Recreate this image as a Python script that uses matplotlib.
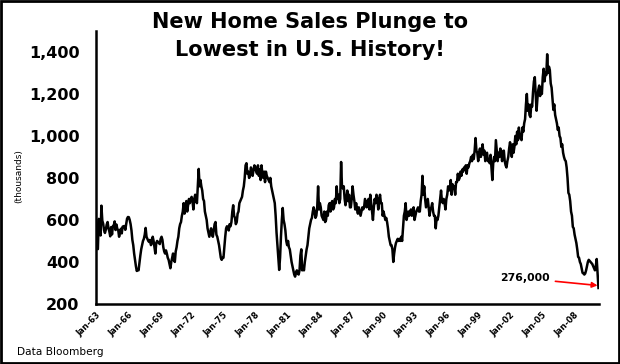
import matplotlib
matplotlib.use("Agg")
import matplotlib.pyplot as plt
import matplotlib.transforms as mtransforms
import numpy as np

# Monthly new home sales (thousands, SAAR), Jan-1963 .. May-2010
sales_1963_1972 = [
    591, 464, 461, 605, 586, 526, 668, 597, 582, 551, 538, 554,
    578, 590, 560, 545, 522, 566, 531, 571, 574, 593, 552, 578,
    557, 552, 520, 541, 558, 536, 568, 570, 571, 553, 580, 606,
    614, 613, 600, 580, 550, 505, 480, 440, 410, 380, 357, 365,
    360, 395, 430, 460, 480, 500, 510, 530, 562, 520, 510, 500,
    495, 505, 480, 490, 520, 500, 470, 440, 490, 500, 495, 490,
    485, 510, 520, 505, 470, 450, 440, 455, 440, 420, 410, 390,
    370, 400, 420, 440, 410, 400, 450, 470, 500, 520, 560, 580,
    590, 620, 640, 680, 630, 660, 690, 640, 670, 700, 680, 700,
    710, 690, 650, 700, 720, 700, 680, 760, 843, 760, 790, 760,
]
sales_1973_1982 = [
    740, 700, 690, 640, 620, 600, 560, 540, 520, 540, 560, 530,
    520, 550, 580, 590, 530, 520, 500, 480, 450, 420, 410, 419,
    420, 470, 520, 560, 570, 560, 550, 580, 570, 590, 640, 670,
    620, 610, 580, 590, 630, 640, 680, 690, 700, 710, 740, 760,
    800, 860, 870, 820, 830, 800, 810, 850, 830, 810, 840, 860,
    850, 830, 820, 860, 810, 840, 790, 860, 820, 800, 830, 780,
    830, 810, 800, 790, 780, 800, 760, 740, 720, 700, 680, 620,
    540, 480, 420, 362, 420, 520, 600, 657, 600, 580, 550, 500,
    480, 500, 470, 460, 430, 400, 380, 360, 340, 330, 350, 360,
    345, 340, 360, 430, 460, 360, 380, 360, 400, 430, 460, 480,
]
sales_1983_1992 = [
    520, 560, 580, 600, 610, 640, 660, 640, 610, 620, 660, 760,
    650, 680, 660, 620, 610, 600, 640, 590, 600, 640, 620, 670,
    680, 640, 680, 690, 650, 660, 700, 680, 760, 700, 720, 680,
    700, 876, 760, 750, 760, 700, 670, 700, 740, 690, 720, 660,
    660, 700, 760, 720, 690, 650, 680, 650, 630, 660, 640, 620,
    640, 660, 650, 660, 700, 680, 660, 690, 700, 650, 720, 680,
    640, 600, 660, 700, 680, 720, 700, 650, 690, 720, 680, 680,
    620, 640, 620, 600, 610, 590, 560, 520, 500, 480, 480, 460,
    400, 440, 470, 490, 500, 510, 500, 510, 500, 520, 500, 560,
    620, 640, 680, 600, 620, 640, 620, 640, 650, 620, 640, 660,
]
sales_1993_2002 = [
    600, 620, 640, 650, 660, 640, 640, 690, 720, 810, 720, 760,
    700, 660, 680, 700, 660, 620, 650, 660, 680, 640, 620, 620,
    560, 610, 600, 620, 660, 700, 740, 690, 680, 700, 680, 650,
    700, 720, 760, 740, 750, 790, 720, 770, 750, 760, 720, 780,
    780, 820, 790, 800, 830, 810, 840, 830, 850, 840, 860, 820,
    860, 850, 870, 880, 900, 880, 910, 890, 930, 990, 930, 920,
    880, 920, 940, 900, 930, 960, 910, 930, 880, 900, 920, 880,
    890, 870, 910, 850, 790, 870, 900, 880, 980, 930, 880, 920,
    900, 940, 930, 880, 920, 930, 880, 860, 850, 880, 900, 940,
    970, 940, 900, 960, 920, 950, 1000, 960, 1020, 980, 1040, 1000,
]
sales_2003_2010 = [
    990, 980, 1040, 1020, 1060, 1080, 1150, 1200, 1120, 1150, 1100, 1090,
    1150, 1140, 1210, 1260, 1280, 1200, 1120, 1180, 1220, 1240, 1190, 1230,
    1200, 1280, 1320, 1260, 1300, 1290, 1389, 1300, 1330, 1314, 1250, 1230,
    1180, 1124, 1150, 1100, 1080, 1060, 1029, 1040, 1000, 990, 948, 960,
    920, 900, 886, 880, 850, 800, 729, 720, 690, 640, 620, 567,
    560, 530, 510, 490, 460, 424, 420, 400, 390, 370, 348, 345,
    340, 345, 360, 380, 400, 410, 405, 400, 395, 390, 380, 370,
    360, 380, 414, 345, 276,
]
sales = sales_1963_1972 + sales_1973_1982 + sales_1983_1992 + sales_1993_2002 + sales_2003_2010

tick_years = list(range(1963, 2009, 3))
tick_labels = ["Jan-%02d" % (y % 100) for y in tick_years]
y_ticks = [200, 400, 600, 800, 1000, 1200, 1400]
y_tick_labels = ["200", "400", "600", "800", "1,000", "1,200", "1,400"]
last_label = "276,000"
title_line1 = "New Home Sales Plunge to"
title_line2 = "Lowest in U.S. History!"

fig = plt.figure(figsize=(6.2, 3.64), dpi=100)
ax = fig.add_axes([0.155, 0.165, 0.811, 0.75])

x = np.arange(len(sales))
ax.plot(x, sales, color="black", lw=1.8, solid_joinstyle="round")

ax.set_xlim(0, len(sales) - 0.5)
ax.set_ylim(200, 1500)
ax.set_yticks(y_ticks)
ax.set_yticklabels(y_tick_labels, fontsize=11.5, fontweight="bold")
ax.set_xticks([(y - 1963) * 12 for y in tick_years])
ax.set_xticklabels(tick_labels, fontsize=6, fontweight="bold", rotation=45,
                   ha="right", rotation_mode="anchor")
shift = mtransforms.ScaledTranslation(-4 / 100, 0, fig.dpi_scale_trans)
for lbl in ax.get_xticklabels():
    lbl.set_transform(lbl.get_transform() + shift)
ax.tick_params(axis="both", length=0)
ax.tick_params(axis="y", pad=12)
ax.tick_params(axis="x", pad=5)
for s in ["top", "right"]:
    ax.spines[s].set_visible(False)
for s in ["left", "bottom"]:
    ax.spines[s].set_linewidth(1.8)

ax.set_ylabel("(thousands)", fontsize=6.5)
ax.yaxis.set_label_coords(-0.145, 0.47)

fig.text(0.5, 1 - 22 / 364, title_line1, fontsize=15, fontweight="bold",
         ha="center", va="center")
fig.text(0.5, 1 - 50 / 364, title_line2, fontsize=15, fontweight="bold",
         ha="center", va="center")

last_i = len(sales) - 1
ax.annotate(last_label, xy=(last_i - 1, sales[-1] + 12), xytext=(last_i - 55, 322),
            fontsize=7.8, fontweight="bold", ha="right", va="center",
            arrowprops=dict(arrowstyle="-|>", color="red", lw=1.2, mutation_scale=8,
                            shrinkA=2, shrinkB=0))

fig.text(0.027, 1 - 352 / 364, "Data Bloomberg", fontsize=7.6, va="center")

border = plt.Rectangle((0.002, 0.003), 0.996, 0.994, transform=fig.transFigure,
                       fill=False, lw=2, edgecolor="black")
fig.patches.append(border)

fig.savefig("out.png", dpi=100)
